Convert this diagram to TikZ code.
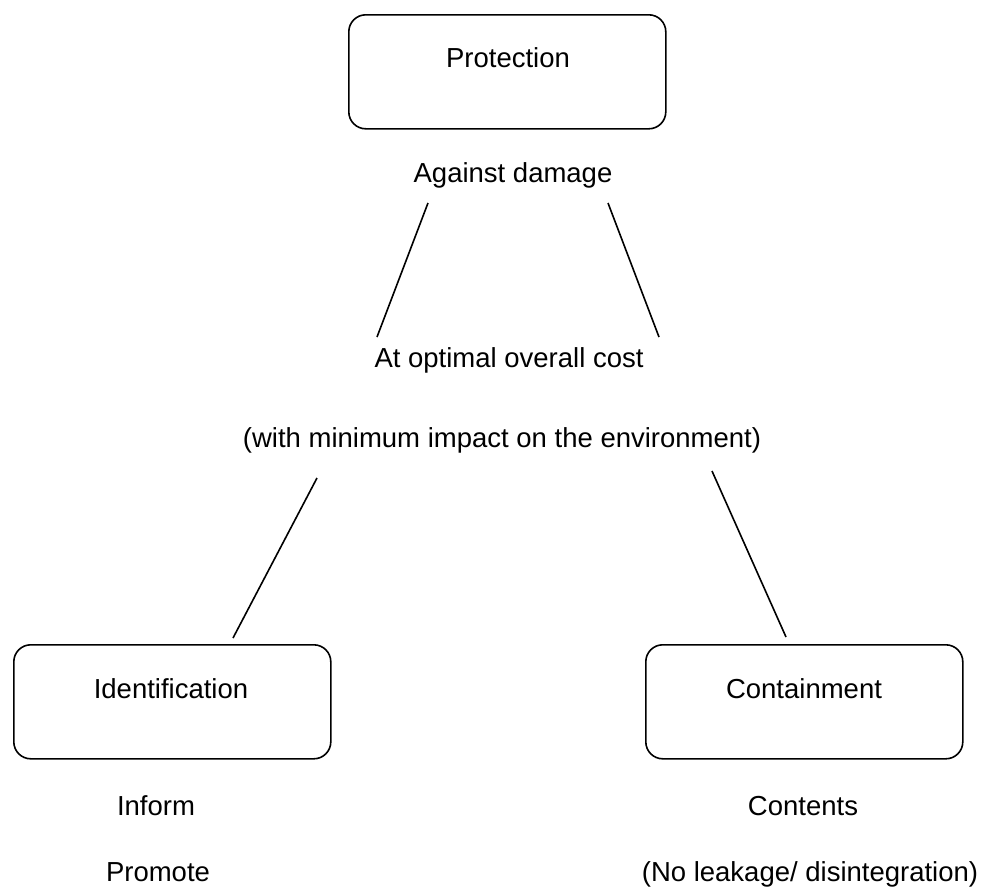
\documentclass[tikz,border=0pt]{standalone}
\usepackage{fontspec}
\setmainfont{Liberation Sans}
\begin{document}
\begin{tikzpicture}[x=1pt,y=-1pt,
  frame/.style={draw, line width=1.6pt, rounded corners=17pt, minimum width=317pt,
                minimum height=114pt, inner sep=0pt, anchor=north west},
  lbl/.style={font=\fontsize{27.5}{33}\selectfont, inner sep=0pt, anchor=base},
  link/.style={line width=1.6pt}]
\useasboundingbox (0,0) rectangle (986,887);

% three boxes
\node[frame] (prot) at (348,14) {};
\node[frame] (ident) at (13,644) {};
\node[frame] (cont) at (645,644) {};

% box captions
\node[lbl] (protlbl) at (508,67) {Protection};
\node[lbl] (identlbl) at (171,698) {Identification};
\node[lbl] (contlbl) at (804,698) {Containment};

% middle texts
\node[lbl] (against) at (513,182) {Against damage};
\node[lbl] (cost) at (509,367) {At optimal overall cost};
\node[lbl] (env) at (502,447) {(with minimum impact on the environment)};

% texts below boxes
\node[lbl] (inform) at (156,815) {Inform};
\node[lbl] (promote) at (158,881) {Promote};
\node[lbl] (contents) at (803,815) {Contents};
\node[lbl] (leak) at (810,881) {(No leakage/ disintegration)};

% connector ends
\coordinate (a1) at (428,203);
\coordinate (a2) at (377,337);
\coordinate (b1) at (608,203);
\coordinate (b2) at (659,337);
\coordinate (c1) at (317,478);
\coordinate (c2) at (233,638);
\coordinate (d1) at (712,471);
\coordinate (d2) at (786,637);

\draw[link] (a1) -- (a2);
\draw[link] (b1) -- (b2);
\draw[link] (c1) -- (c2);
\draw[link] (d1) -- (d2);
\end{tikzpicture}
\end{document}
